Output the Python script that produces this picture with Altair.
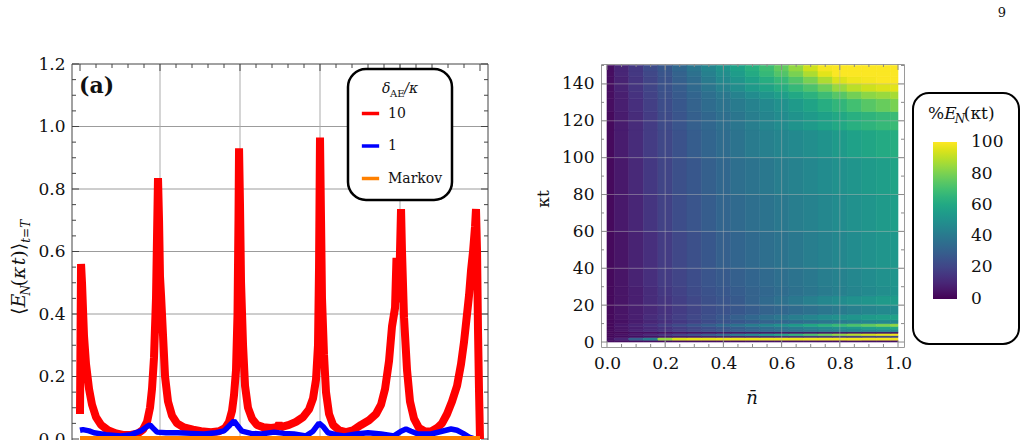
import altair as alt
import pandas as pd

SERIF = "DejaVu Serif"
INK = "#111111"

# ---------------- panel (a): time-averaged negativity at t = T ----------------
series_names = ["10", "1", "Markov"]
series_colors = ["#ff0000", "#0000ff", "#ff8000"]

red_T = [0.000, 0.013, 0.025, 0.050, 0.075, 0.113, 0.150, 0.200, 0.263, 0.350,
         0.450, 0.538, 0.638, 0.725, 0.788, 0.838, 0.875, 0.900, 0.925, 0.950,
         0.963, 0.975, 0.988, 1.000, 1.013, 1.038, 1.063, 1.100, 1.150, 1.213,
         1.300, 1.413, 1.513, 1.638, 1.738, 1.813, 1.863, 1.900, 1.925, 1.950,
         1.969, 1.981, 1.988, 2.000, 2.013, 2.038, 2.063, 2.100, 2.150, 2.213,
         2.288, 2.388, 2.463, 2.488, 2.513, 2.613, 2.700, 2.788, 2.863, 2.913,
         2.950, 2.975, 2.988, 3.000, 3.013, 3.025, 3.050, 3.075, 3.113, 3.163,
         3.238, 3.325, 3.413, 3.513, 3.613, 3.700, 3.763, 3.813, 3.863, 3.900,
         3.938, 3.956, 3.975, 3.988, 4.000, 4.013, 4.025, 4.050, 4.088, 4.125,
         4.175, 4.238, 4.313, 4.388, 4.463, 4.525, 4.588, 4.650, 4.713, 4.763,
         4.800, 4.838, 4.863, 4.888, 4.913, 4.938, 4.950, 4.963, 4.975, 4.988,
         5.000]
red_E = [0.080, 0.560, 0.500, 0.330, 0.240, 0.160, 0.110, 0.070, 0.045, 0.028,
         0.018, 0.013, 0.013, 0.018, 0.030, 0.055, 0.100, 0.160, 0.260, 0.450,
         0.650, 0.835, 0.700, 0.520, 0.460, 0.330, 0.200, 0.120, 0.075, 0.050,
         0.037, 0.030, 0.025, 0.022, 0.025, 0.035, 0.055, 0.090, 0.140, 0.220,
         0.400, 0.700, 0.930, 0.750, 0.500, 0.300, 0.170, 0.100, 0.065, 0.045,
         0.038, 0.035, 0.038, 0.048, 0.038, 0.045, 0.055, 0.070, 0.095, 0.130,
         0.190, 0.300, 0.550, 0.965, 0.700, 0.450, 0.270, 0.150, 0.080, 0.045,
         0.028, 0.022, 0.028, 0.045, 0.060, 0.080, 0.110, 0.160, 0.250, 0.360,
         0.420, 0.580, 0.450, 0.450, 0.600, 0.736, 0.600, 0.390, 0.220, 0.120,
         0.065, 0.035, 0.024, 0.024, 0.035, 0.050, 0.080, 0.120, 0.170, 0.240,
         0.310, 0.400, 0.460, 0.540, 0.600, 0.680, 0.736, 0.600, 0.350, 0.150,
         0.000]

blue_T = [0.000, 0.038, 0.113, 0.175, 0.325, 0.513, 0.638, 0.763, 0.838, 0.875,
          0.913, 0.963, 1.075, 1.225, 1.388, 1.550, 1.700, 1.800, 1.875, 1.925,
          1.963, 2.025, 2.138, 2.263, 2.425, 2.550, 2.675, 2.825, 2.913, 2.988,
          3.038, 3.100, 3.200, 3.300, 3.450, 3.600, 3.763, 3.925, 4.013, 4.075,
          4.138, 4.225, 4.388, 4.513, 4.638, 4.713, 4.788, 4.863, 4.913]
blue_E = [0.028, 0.030, 0.026, 0.020, 0.014, 0.010, 0.014, 0.026, 0.040, 0.045,
          0.035, 0.022, 0.020, 0.020, 0.018, 0.016, 0.020, 0.026, 0.045, 0.058,
          0.045, 0.025, 0.018, 0.016, 0.022, 0.018, 0.016, 0.010, 0.025, 0.051,
          0.040, 0.020, 0.014, 0.010, 0.016, 0.020, 0.016, 0.010, 0.025, 0.032,
          0.025, 0.016, 0.016, 0.024, 0.032, 0.028, 0.018, 0.006, 0.002]

markov_T = [0, 1, 2, 3, 4, 5]
markov_E = [0, 0, 0, 0, 0, 0]

a_y_major = [0.0, 0.2, 0.4, 0.6, 0.8, 1.0, 1.2]
a_y_minor = [0.05, 0.1, 0.15, 0.25, 0.3, 0.35, 0.45, 0.5, 0.55, 0.65, 0.7, 0.75,
             0.85, 0.9, 0.95, 1.05, 1.1, 1.15]
a_y_grid = [0.2, 0.4, 0.6, 0.8, 1.0]
a_x_major = [0, 1, 2, 3, 4, 5]
a_x_minor = [0.2, 0.4, 0.6, 0.8, 1.2, 1.4, 1.6, 1.8, 2.2, 2.4, 2.6, 2.8,
             3.2, 3.4, 3.6, 3.8, 4.2, 4.4, 4.6, 4.8]
a_x_grid = [1, 2, 3, 4]

# ---------------- panel (b): %E_N(kappa t) over (nbar, kappa t) ----------------
nbar = [0.0, 0.05, 0.1, 0.15, 0.2, 0.25, 0.3, 0.35, 0.4, 0.45, 0.5,
        0.55, 0.6, 0.65, 0.7, 0.75, 0.8, 0.85, 0.9, 0.95, 1.0]
kt_edges = [0, 1, 2.5, 3.5, 4.7, 5.6, 7, 8.5, 10, 12, 15, 20, 25, 30, 40,
            60, 80, 100, 115, 125, 132, 136, 140, 144, 147, 150]
# one row per kappa-t band (bottom to top), one value per nbar column
EN_pct = [
    [3, 3, 3, 3, 3, 3, 3, 3, 3, 3, 4, 4, 4, 4, 4, 4, 4, 4, 4, 4, 4],
    [4, 10, 30, 42, 85, 95, 97, 97, 98, 98, 98, 98, 98, 98, 99, 99, 99, 99, 99, 99, 99],
    [2, 3, 4, 5, 6, 7, 8, 9, 10, 10, 11, 12, 13, 14, 15, 16, 17, 18, 19, 20, 21],
    [2, 4, 7, 11, 15, 20, 25, 30, 36, 42, 48, 54, 60, 66, 72, 78, 84, 89, 93, 96, 98],
    [2, 2, 3, 3, 3, 4, 4, 4, 5, 5, 5, 5, 5, 5, 5, 5, 5, 5, 5, 5, 5],
    [2, 5, 9, 12, 15, 18, 21, 24, 27, 30, 32, 34, 36, 38, 40, 42, 44, 46, 47, 48, 49],
    [2, 5, 8, 11, 14, 17, 20, 23, 26, 29, 32, 35, 38, 41, 44, 47, 50, 53, 56, 58, 60],
    [2, 6, 10, 14, 18, 22, 26, 30, 34, 38, 42, 46, 50, 55, 60, 64, 68, 72, 76, 80, 84],
    [2, 4, 7, 10, 13, 16, 19, 22, 25, 27, 29, 31, 33, 35, 37, 39, 41, 43, 45, 46, 47],
    [2, 5, 8, 12, 15, 18, 21, 24, 27, 30, 33, 36, 39, 42, 45, 48, 50, 52, 54, 56, 57],
    [2, 5, 8, 11, 14, 17, 20, 23, 25, 27, 29, 31, 33, 35, 37, 39, 41, 43, 45, 47, 48],
    [2, 5, 8, 12, 15, 18, 21, 24, 26, 28, 31, 34, 37, 40, 43, 46, 48, 50, 52, 54, 55],
    [2, 5, 8, 12, 16, 19, 22, 25, 27, 29, 31, 33, 35, 37, 39, 41, 43, 45, 47, 49, 51],
    [2, 5, 9, 13, 17, 20, 23, 26, 28, 30, 32, 34, 36, 38, 40, 42, 44, 46, 48, 50, 52],
    [2, 5, 9, 13, 17, 21, 24, 27, 30, 32, 34, 36, 38, 40, 42, 44, 46, 48, 50, 52, 53],
    [2, 6, 10, 15, 19, 23, 26, 29, 32, 34, 36, 38, 40, 42, 44, 46, 48, 50, 52, 54, 56],
    [2, 6, 11, 16, 20, 24, 27, 30, 33, 36, 38, 40, 42, 44, 46, 48, 50, 52, 54, 56, 58],
    [2, 7, 12, 17, 21, 25, 29, 32, 35, 38, 41, 43, 45, 47, 49, 51, 54, 57, 59, 61, 62],
    [2, 7, 12, 17, 22, 26, 30, 33, 36, 39, 42, 45, 48, 51, 54, 57, 60, 63, 65, 67, 68],
    [3, 8, 13, 18, 23, 27, 31, 35, 38, 41, 44, 47, 50, 54, 58, 62, 66, 70, 74, 77, 80],
    [3, 8, 14, 19, 24, 28, 32, 36, 40, 44, 48, 52, 56, 60, 64, 69, 74, 79, 83, 85, 87],
    [3, 9, 15, 20, 25, 29, 34, 39, 44, 49, 54, 58, 62, 67, 72, 78, 85, 90, 93, 95, 96],
    [3, 9, 15, 20, 25, 30, 35, 41, 47, 52, 57, 62, 67, 73, 80, 88, 95, 98, 99, 100, 100],
    [3, 10, 16, 21, 26, 31, 37, 43, 49, 55, 61, 67, 73, 80, 88, 96, 100, 100, 100, 100, 100],
    [3, 10, 16, 22, 27, 33, 39, 45, 51, 57, 63, 69, 76, 84, 93, 99, 100, 100, 100, 100, 100],
]
pct_ticks = [0, 20, 40, 60, 80, 100]

b_x_major = [0.0, 0.2, 0.4, 0.6, 0.8, 1.0]
b_x_minor = [0.05, 0.1, 0.15, 0.25, 0.3, 0.35, 0.45, 0.5, 0.55, 0.65, 0.7, 0.75,
             0.85, 0.9, 0.95]
b_x_grid = [0.2, 0.4, 0.6, 0.8]
b_y_major = [0, 20, 40, 60, 80, 100, 120, 140]
b_y_minor = [10, 30, 50, 70, 90, 110, 130, 150]
b_y_grid = [20, 40, 60, 80, 100, 120, 140]

# ---------------- layout ----------------
WA, HA = 416, 377
WB, HB = 303, 283

xa = alt.Scale(domain=[-0.1, 5.1], nice=False, zero=False)
ya = alt.Scale(domain=[-0.0064, 1.2], nice=False, zero=False)
xb = alt.Scale(domain=[-0.0206, 1.0206], nice=False, zero=False)
yb = alt.Scale(domain=[-2.7, 150.8], nice=False, zero=False)

y_axis_a = alt.Axis(values=a_y_major, format=".1f", labelFont=SERIF, labelFontSize=17,
                    labelColor=INK, ticks=False, domain=False, grid=False,
                    labelPadding=7, title=None)
x_axis_b = alt.Axis(values=b_x_major, format=".1f", labelFont=SERIF, labelFontSize=17,
                    labelColor=INK, ticks=False, domain=False, grid=False,
                    labelPadding=8, title=None)
y_axis_b = alt.Axis(values=b_y_major, format="d", labelFont=SERIF, labelFontSize=17,
                    labelColor=INK, ticks=False, domain=False, grid=False,
                    labelPadding=7, title=None)


def XA(f):
    return alt.X(f"{f}:Q", scale=xa, axis=None)


def YA(f):
    return alt.Y(f"{f}:Q", scale=ya, axis=y_axis_a)


def XB(f):
    return alt.X(f"{f}:Q", scale=xb, axis=x_axis_b)


def YB(f):
    return alt.Y(f"{f}:Q", scale=yb, axis=y_axis_b)


one = pd.DataFrame({"k": [0]})


def side_ticks(values, field, enc, length, far, color, horizontal_edge):
    """Inward frame ticks at the given data values on both opposite edges."""
    df = pd.DataFrame({field: values})
    out = []
    for start, end in ((0, length), (far, far - length)):
        if horizontal_edge:
            e = dict(x=enc(field), y=alt.value(start), y2=alt.value(end))
        else:
            e = dict(y=enc(field), x=alt.value(start), x2=alt.value(end))
        out.append(alt.Chart(df).mark_rule(color=color, strokeWidth=1).encode(**e))
    return out


def text_run(pieces, x0, y0, upward=False):
    """Lay out a run of (text, italic, size, drop, advance_em) pieces as text marks."""
    out, pos = [], 0.0
    for text, italic, size, drop, adv in pieces:
        if upward:
            px, py, angle = x0 + drop, y0 - pos, 270
        else:
            px, py, angle = x0 + pos, y0 + drop, 0
        out.append(
            alt.Chart(pd.DataFrame({"t": [text]})).mark_text(
                font=SERIF, fontStyle="italic" if italic else "normal", fontSize=size,
                align="left", baseline="alphabetic", angle=angle, color=INK,
            ).encode(x=alt.value(px), y=alt.value(py), text="t:N")
        )
        pos += adv * size
    return out


# ---------------- panel (a) chart ----------------
lines_df = pd.concat([
    pd.DataFrame({"T": red_T, "E": red_E, "series": "10"}),
    pd.DataFrame({"T": blue_T, "E": blue_E, "series": "1"}),
    pd.DataFrame({"T": markov_T, "E": markov_E, "series": "Markov"}),
])

color_a = alt.Color(
    "series:N",
    scale=alt.Scale(domain=series_names, range=series_colors),
    legend=alt.Legend(
        title=None, orient="none", legendX=288, legendY=39, direction="vertical",
        symbolType="stroke", symbolStrokeWidth=3.5, symbolSize=300,
        labelFont=SERIF, labelFontSize=14, labelColor=INK, labelOffset=7,
        rowPadding=14.5, padding=0,
    ),
)

anchor = alt.Chart(one).mark_rect(opacity=0).encode(
    x=alt.value(-71), x2=alt.value(-71), y=alt.value(-63), y2=alt.value(-63))

hgrid_a = alt.Chart(pd.DataFrame({"E": a_y_grid})).mark_rule(color="#9c9c9c", strokeWidth=1).encode(
    y=YA("E"), x=alt.value(0), x2=alt.value(WA))
vgrid_a = alt.Chart(pd.DataFrame({"T": a_x_grid})).mark_rule(color="#ababab", strokeWidth=1).encode(
    x=XA("T"), y=alt.value(0), y2=alt.value(HA))

frame_a = [
    alt.Chart(one).mark_rule(color="#444444").encode(x=alt.value(0), y=alt.value(0), y2=alt.value(HA)),
    alt.Chart(one).mark_rule(color="#444444").encode(x=alt.value(WA), y=alt.value(0), y2=alt.value(HA)),
    alt.Chart(one).mark_rule(color="#444444").encode(y=alt.value(0), x=alt.value(0), x2=alt.value(WA)),
]

ticks_a = (
    side_ticks(a_y_major, "E", YA, 7, WA, "#444444", False)
    + side_ticks(a_y_minor, "E", YA, 4, WA, "#444444", False)
    + side_ticks(a_x_major, "T", XA, 7, 10000, "#444444", True)[:1]
    + side_ticks(a_x_minor, "T", XA, 4, 10000, "#444444", True)[:1]
)

base_lines = alt.Chart(lines_df)
line_layers = []
for name, width in (("10", 8), ("1", 5.5), ("Markov", 6)):
    line_layers.append(
        base_lines.transform_filter(alt.datum.series == name)
        .mark_line(strokeWidth=width, clip=True, strokeJoin="bevel")
        .encode(x=XA("T"), y=YA("E"), color=color_a, order="T:Q")
    )

legend_box_a = alt.Chart(one).mark_rect(fill="white", stroke="black", strokeWidth=2.5, cornerRadius=18).encode(
    x=alt.value(276), x2=alt.value(380), y=alt.value(5), y2=alt.value(136))

panel_tag = alt.Chart(pd.DataFrame({"t": ["(a)"]})).mark_text(
    font=SERIF, fontWeight="bold", fontSize=22, align="left", baseline="middle", color=INK
).encode(x=alt.value(7), y=alt.value(22), text="t:N")

ytitle_a = text_run([
    ("\u27e8", False, 19, 0, 0.40),
    ("E", True, 19, 0, 0.63),
    ("N", True, 12, 5, 0.75),
    ("(", False, 19, 0, 0.39),
    ("\u03ba", True, 19, 0, 0.72),
    ("t", True, 19, 0, 0.40),
    (")", False, 19, 0, 0.39),
    ("\u27e9", False, 19, 0, 0.40),
    ("t=T", True, 12, 5, 1.6),
], x0=-47, y0=251, upward=True)

legend_title_a = text_run([
    ("\u03b4", True, 14, 0, 0.58),
    ("AE", False, 10, 4, 1.42),
    ("/\u03ba", True, 14, 0, 0.9),
], x0=310, y0=29)

chart_a = alt.layer(
    anchor, hgrid_a, vgrid_a, *frame_a, *ticks_a, *line_layers, legend_box_a,
    panel_tag, *ytitle_a, *legend_title_a,
).properties(width=WA, height=HA, view=alt.ViewBackground(stroke="transparent"))

# ---------------- panel (b) chart ----------------
n_edges = [nbar[0]] + [(a + b) / 2 for a, b in zip(nbar[:-1], nbar[1:])] + [nbar[-1]]
cells = []
for i, row in enumerate(EN_pct):
    for j, v in enumerate(row):
        cells.append(dict(n=n_edges[j], n1=n_edges[j + 1],
                          k=kt_edges[i], k1=kt_edges[i + 1], pct=v))
cells_df = pd.DataFrame(cells)

# the tiny margin keeps the 0 and 100 colour-bar labels centred on the bar ends
viridis = alt.Scale(scheme="viridis", domain=[-0.3, 100.3])
heat = alt.Chart(cells_df).mark_rect(strokeWidth=0.6).encode(
    x=XB("n"), x2="n1:Q", y=YB("k"), y2="k1:Q",
    color=alt.Color("pct:Q", scale=viridis, legend=alt.Legend(
        type="gradient", title=None, orient="none", legendX=332, legendY=78,
        direction="vertical", gradientLength=157, gradientThickness=24,
        gradientStrokeWidth=0, values=pct_ticks, labelFont=SERIF, labelFontSize=17,
        labelColor=INK, labelOffset=14, padding=0)),
    stroke=alt.Stroke("pct:Q", scale=viridis, legend=None),
)

vgrid_b = alt.Chart(pd.DataFrame({"n": b_x_grid})).mark_rule(color="#b5b5b5", opacity=0.45).encode(
    x=XB("n"), y=alt.value(0), y2=alt.value(HB))
hgrid_b = alt.Chart(pd.DataFrame({"k": b_y_grid})).mark_rule(color="#b5b5b5", opacity=0.45).encode(
    y=YB("k"), x=alt.value(0), x2=alt.value(WB))

ticks_b = (
    side_ticks(b_y_major, "k", YB, 6, WB, "#8a8a8a", False)
    + side_ticks(b_y_minor, "k", YB, 3, WB, "#8a8a8a", False)
    + side_ticks(b_x_major, "n", XB, 6, HB, "#8a8a8a", True)
    + side_ticks(b_x_minor, "n", XB, 3, HB, "#8a8a8a", True)
)

cbar_box = alt.Chart(one).mark_rect(fill="white", stroke="black", strokeWidth=2, cornerRadius=16).encode(
    x=alt.value(312), x2=alt.value(418), y=alt.value(29), y2=alt.value(280))

cbar_title = text_run([
    ("%", False, 17, 0, 0.95),
    ("E", True, 17, 0, 0.63),
    ("N", True, 12, 4, 0.75),
    ("(\u03bat)", False, 17, 0, 1.6),
], x0=327, y0=55)

kt_title = alt.Chart(pd.DataFrame({"t": ["\u03bat"]})).mark_text(
    font=SERIF, fontSize=17, angle=270, align="center", baseline="middle", color=INK
).encode(x=alt.value(-57), y=alt.value(135), text="t:N")
n_title = alt.Chart(pd.DataFrame({"t": ["n\u0304"]})).mark_text(
    font=SERIF, fontSize=18, fontStyle="italic", align="center", baseline="middle", color=INK
).encode(x=alt.value(151), y=alt.value(335), text="t:N")
page_no = alt.Chart(pd.DataFrame({"t": ["9"]})).mark_text(
    font=SERIF, fontSize=13, align="center", baseline="middle", color=INK
).encode(x=alt.value(401), y=alt.value(-51), text="t:N")

chart_b = alt.layer(
    heat, vgrid_b, hgrid_b, *ticks_b, cbar_box, *cbar_title, kt_title, n_title, page_no,
).properties(width=WB, height=HB, view=alt.ViewBackground(stroke="#9a9a9a", strokeWidth=1))

chart = alt.hconcat(chart_a, chart_b, spacing=113, bounds="flush").properties(
    padding=0
).configure(background="white")

chart.save("out.html", embed_options={"renderer": "svg", "actions": False})
